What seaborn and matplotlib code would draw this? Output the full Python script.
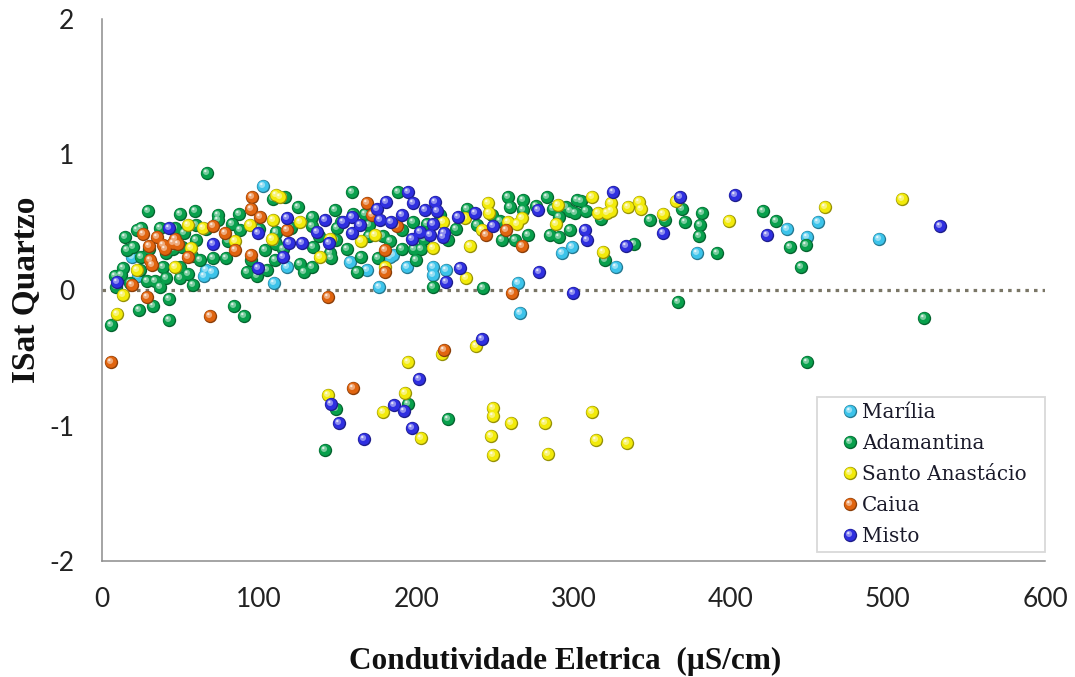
import numpy as np
import pandas as pd
import matplotlib
matplotlib.use("Agg")
import matplotlib.pyplot as plt
import matplotlib.colors as mcolors
from matplotlib.path import Path
from matplotlib.legend_handler import HandlerTuple
import seaborn as sns

# ---------------- data ----------------
series_names = ["Marília", "Adamantina", "Santo Anastácio", "Caiua", "Misto"]
series_colors = ["#3cc3ea", "#08a04c", "#f2ea0a", "#e0640f", "#2f2fe0"]

marilia_x = [19, 23, 65, 66, 70, 102.6, 109.4, 110, 117.5, 157.8, 168.4, 176, 183, 185,
             193.8, 210.8, 210.8, 219, 265, 266, 293, 299, 327, 378.7, 436, 448.7, 455.7, 494.5]
marilia_y = [0.245, 0.10, 0.10, 0.15, 0.13, 0.77, 0.05, 0.36, 0.17, 0.21, 0.15, 0.025, 0.245, 0.26,
             0.17, 0.17, 0.11, 0.15, 0.055, -0.17, 0.27, 0.315, 0.17, 0.275, 0.45, 0.39, 0.50, 0.38]

adamantina_x = [6, 8, 9, 12, 13.6, 14.6, 15.7, 18, 19.5, 22, 23.7, 24, 25, 25, 28.4, 29.5, 30, 32.6,
                34, 37, 37, 39, 41, 41, 42.8, 42.8, 45, 46.4, 49.6, 49.6, 49.6, 50.7, 52, 55, 57,
                58, 59, 60, 60, 62.3, 66, 67, 70.8, 74, 74, 79, 80, 82.5, 84, 87, 87.8, 90.5, 92,
                95, 98.4, 100, 103.7, 105, 109, 110, 110.5, 110.5, 111, 115, 116.4, 120, 125, 126,
                128.3, 133.6, 133.6, 133.6, 134.4, 138, 142, 145, 146, 148, 149, 149.6, 149, 152,
                156, 158.8, 160, 162, 165, 167.3, 170, 170, 175.8, 178.5, 183, 188.5, 190.6, 191,
                195, 198, 198.6, 200, 203, 205, 206.6, 210.8, 215, 220, 220, 225, 232, 238.5,
                242.6, 248, 253, 254.3, 258.5, 259.6, 262.8, 268, 268, 271, 276, 283, 285, 287,
                290.5, 291, 295.5, 297.7, 298, 301, 302, 305, 308, 317.8, 320, 338.4, 348.6, 358,
                366.6, 369, 371, 380, 380.7, 382, 391, 420.7, 429, 438, 445, 447.8, 448.7, 523]
adamantina_y = [-0.26, 0.10, 0.025, 0.11, 0.16, 0.39, 0.295, 0.05, 0.32, 0.44, -0.15, 0.15, 0.245,
                0.46, 0.07, 0.58, 0.30, -0.12, 0.065, 0.025, 0.455, 0.17, 0.085, 0.27, -0.07, -0.22,
                0.30, 0.455, 0.56, 0.085, 0.17, 0.32, 0.42, 0.12, 0.25, 0.037, 0.58, 0.37, 0.48,
                0.22, 0.45, 0.86, 0.235, 0.555, 0.52, 0.235, 0.36, 0.49, -0.12, 0.56, 0.44, -0.19,
                0.135, 0.22, 0.10, 0.45, 0.295, 0.15, 0.67, 0.22, 0.43, 0.34, 0.42, 0.30, 0.69,
                0.46, 0.615, 0.195, 0.135, 0.17, 0.54, 0.47, 0.32, 0.40, -1.18, 0.27, 0.235, 0.59,
                0.37, 0.455, -0.88, 0.50, 0.30, 0.72, 0.56, 0.135, 0.245, 0.56, 0.40, 0.48, 0.235,
                0.40, 0.36, 0.72, 0.44, 0.30, -0.84, 0.505, 0.30, 0.22, 0.30, 0.38, 0.49, 0.025,
                0.555, 0.37, -0.955, 0.45, 0.60, 0.48, 0.012, 0.55, 0.51, 0.37, 0.69, 0.615, 0.37,
                0.665, 0.59, 0.405, 0.62, 0.69, 0.405, 0.60, 0.39, 0.54, 0.615, 0.44, 0.58, 0.57,
                0.665, 0.655, 0.58, 0.525, 0.22, 0.34, 0.52, 0.52, -0.085, 0.60, 0.505, 0.395,
                0.48, 0.565, 0.275, 0.58, 0.51, 0.315, 0.17, 0.33, -0.53, -0.21]

santo_x = [9.3, 13.6, 22, 46.4, 54.5, 56.4, 64.5, 84.6, 94, 108, 108.6, 111, 113, 126, 138.7, 144,
           145, 165, 173.7, 178.5, 180, 193, 195, 203, 210.8, 216.5, 217, 231, 231.5, 234, 238,
           241.7, 245.7, 246.5, 247.5, 249, 249, 249, 258.5, 260, 263.9, 267, 282, 284, 288.8,
           290, 311.5, 312, 314, 315.7, 319, 321, 324, 324, 334, 334.8, 341.8, 343, 356.7, 365.5,
           399, 460, 509]
santo_y = [-0.18, -0.04, 0.15, 0.17, 0.48, 0.31, 0.46, 0.36, 0.48, 0.38, 0.52, 0.70, 0.69, 0.505,
           0.24, -0.775, 0.38, 0.36, 0.405, -0.90, 0.17, -0.76, -0.53, -1.09, 0.31, -0.47, 0.505,
           0.53, 0.085, 0.325, -0.41, 0.44, 0.64, 0.57, -1.08, -0.87, -0.93, -1.22, 0.505, -0.98,
           0.49, 0.53, -0.98, -1.21, 0.49, 0.63, 0.69, -0.90, -1.11, 0.565, 0.28, 0.565, 0.64,
           0.58, -1.13, 0.615, 0.65, 0.60, 0.56, 0.66, 0.51, 0.61, 0.67]

caiua_x = [6, 19, 26, 28.4, 30, 30.5, 31.6, 35, 39, 40, 45, 46.4, 48.6, 55, 69, 70.8, 78, 84.6,
           94.8, 95, 95.3, 100.5, 117.5, 144, 160, 168.4, 172, 180, 180, 187.4, 217.5, 244.3,
           257, 261, 267]
caiua_y = [-0.53, 0.037, 0.41, -0.05, 0.325, 0.22, 0.185, 0.39, 0.33, 0.30, 0.35, 0.38, 0.34,
           0.245, -0.19, 0.47, 0.42, 0.295, 0.60, 0.26, 0.69, 0.54, 0.44, -0.05, -0.725, 0.64,
           0.55, 0.295, 0.135, 0.47, -0.44, 0.405, 0.44, -0.02, 0.325]

misto_x = [9.3, 42.8, 70.8, 99.4, 99.4, 115.3, 117.5, 119, 127, 136.6, 141.9, 144.6, 146, 151,
           153.5, 158.8, 158.8, 164, 167, 174.7, 176.8, 181, 184, 186, 190.6, 192, 195, 197,
           197, 198, 201.7, 202.3, 205.5, 209, 210.8, 211.8, 213, 217, 217.6, 219, 226.7, 228,
           237.3, 242, 248.5, 277.5, 278, 299.4, 307, 308.3, 325, 333.3, 356.7, 368, 402.7,
           423, 533.5]
misto_y = [0.06, 0.455, 0.34, 0.42, 0.16, 0.245, 0.53, 0.35, 0.345, 0.43, 0.52, 0.345, -0.84,
           -0.98, 0.505, 0.54, 0.42, 0.48, -1.10, 0.595, 0.52, 0.65, 0.505, -0.85, 0.555, -0.89,
           0.72, 0.38, -1.02, 0.645, -0.66, 0.43, 0.59, 0.405, 0.49, 0.65, 0.58, 0.39, 0.42,
           0.06, 0.54, 0.16, 0.57, -0.365, 0.47, 0.59, 0.13, -0.02, 0.44, 0.37, 0.725, 0.325,
           0.42, 0.685, 0.70, 0.405, 0.47]

xticks = [0, 100, 200, 300, 400, 500, 600]
yticks = [-2, -1, 0, 1, 2]
xlabel = "Condutividade Eletrica  (µS/cm)"
ylabel = "ISat Quartzo"

# ---------------- style ----------------
sns.set_style("white")
plt.rcParams["font.family"] = ["Lato", "DejaVu Sans"]
plt.rcParams["axes.unicode_minus"] = False

fig = plt.figure(figsize=(10.75, 6.77), dpi=100)
ax = fig.add_axes([102 / 1075, 1 - 561 / 677, 943 / 1075, 542 / 677])

xs_all = [marilia_x, adamantina_x, santo_x, caiua_x, misto_x]
ys_all = [marilia_y, adamantina_y, santo_y, caiua_y, misto_y]

R_PT = 4.8  # sphere radius in points


def sphere_layers(color):
    rgb = np.array(mcolors.to_rgb(color))
    dark = rgb * 0.62
    light = rgb + (1 - rgb) * 0.45
    white = rgb + (1 - rgb) * 0.85
    return [((-0.06, 0.06), 0.86, rgb),
            ((-0.22, 0.24), 0.46, light),
            ((-0.33, 0.37), 0.18, white)], dark


legend_handles = []
for i, (name, col) in enumerate(zip(series_names, series_colors)):
    df = pd.DataFrame({"x": xs_all[i], "y": ys_all[i]})
    layers, dark = sphere_layers(col)
    z = 3 + i
    sns.scatterplot(data=df, x="x", y="y", color=dark, s=(2 * R_PT) ** 2,
                    linewidth=0, ax=ax, legend=False, zorder=z, clip_on=False)
    handles = [ax.collections[-1]]
    for (c, r, lc) in layers:
        p = Path.circle(center=c, radius=r)
        rescale = np.max(np.abs(p.vertices))
        ms = 2 * R_PT * rescale
        h = ax.scatter(df["x"], df["y"], marker=p, s=ms ** 2, color=lc,
                       linewidths=0, zorder=z, clip_on=False)
        handles.append(h)
    legend_handles.append(tuple(handles))

# dotted zero line
ax.axhline(0, color="#7a7666", lw=2.3, ls=(0, (1.1, 1.6)), zorder=2)

ax.set_xlim(0, 600)
ax.set_ylim(-2, 2)
ax.set_xticks(xticks)
ax.set_yticks(yticks)
ax.set_xticklabels([str(t) for t in xticks])
ax.set_yticklabels([str(t) for t in yticks])

for side in ["top", "right"]:
    ax.spines[side].set_visible(False)
for side in ["left", "bottom"]:
    ax.spines[side].set_color("#8c8c8c")
    ax.spines[side].set_linewidth(1.1)

ax.tick_params(axis="both", direction="out", length=7, width=1.1, color="#8c8c8c",
               labelsize=19, labelcolor="#222222")
ax.tick_params(axis="x", pad=12)
ax.tick_params(axis="y", pad=13)

ax.set_xlabel(xlabel, family=["Liberation Serif", "DejaVu Serif"], fontweight="bold",
              fontsize=22.5, color="#111111")
ax.set_ylabel(ylabel, family=["Liberation Serif", "DejaVu Serif"], fontweight="bold",
              fontsize=24, color="#111111")
ax.xaxis.set_label_coords(0.491, -0.158)
ax.yaxis.set_label_coords(-0.064, 0.5)

leg = ax.legend(legend_handles, series_names,
                handler_map={tuple: HandlerTuple(ndivide=1, pad=0, xpad=1.05)},
                loc="lower left", bbox_to_anchor=(0.758, 0.0166, 0.2418, 0.3),
                mode="expand", borderaxespad=0, borderpad=0.3, labelspacing=0.6,
                handlelength=1.65, handletextpad=0.3, scatterpoints=1,
                scatteryoffsets=[0.5], frameon=True, fancybox=False,
                prop={"family": ["DejaVu Serif"], "size": 14.4})
leg.get_frame().set_edgecolor("#d9d9d9")
leg.get_frame().set_linewidth(1.3)
leg.get_frame().set_facecolor("white")
leg.get_frame().set_alpha(1)
leg.set_zorder(20)
for t in leg.get_texts():
    t.set_color("#1a1a2a")

fig.savefig("out.png", dpi=100)
